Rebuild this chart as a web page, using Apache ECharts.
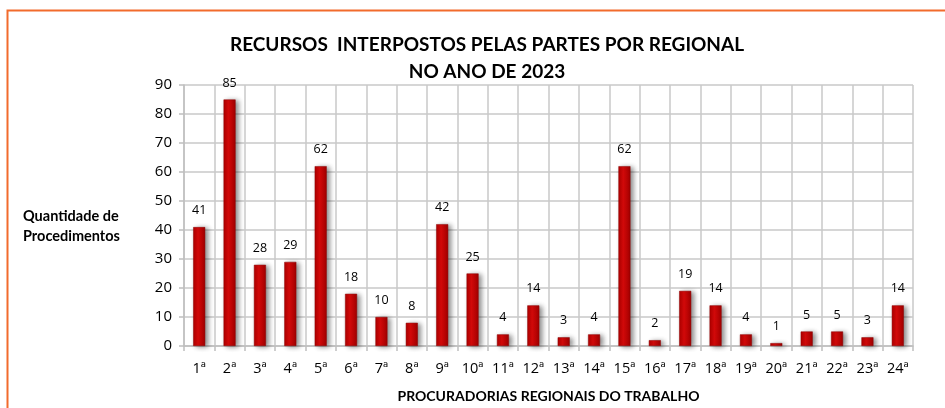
<!DOCTYPE html>
<html>
<head>
<meta charset="utf-8">
<script src="https://cdn.jsdelivr.net/npm/echarts@6/dist/echarts.min.js"></script>
<style>
  html, body { margin: 0; padding: 0; background: #fff; }
  #chart { width: 945px; height: 408px; }
</style>
</head>
<body>
<div id="chart"></div>
<script>
// regionais
var categorias = ['1ª','2ª','3ª','4ª','5ª','6ª','7ª','8ª','9ª','10ª','11ª','12ª',
                  '13ª','14ª','15ª','16ª','17ª','18ª','19ª','20ª','21ª','22ª','23ª','24ª'];
var recursos = [41, 85, 28, 29, 62, 18, 10, 8, 42, 25, 4, 14,
                3, 4, 62, 2, 19, 14, 4, 1, 5, 5, 3, 14];
var yTicks = [0, 10, 20, 30, 40, 50, 60, 70, 80, 90];

var fonte = 'Lato, "Open Sans", sans-serif';
var fonteEixo = '"Open Sans", sans-serif';

var myChart = echarts.init(document.getElementById('chart'), null, {renderer: 'canvas'});

var options = {
    backgroundColor: '#fff',
    animation: false,
    title: {
        text: 'RECURSOS  INTERPOSTOS PELAS PARTES POR REGIONAL\nNO ANO DE 2023',
        left: 482,
        top: 26,
        textAlign: 'center',
        textStyle: {
            fontFamily: fonte,
            fontSize: 19,
            fontWeight: 'bold',
            color: '#000',
            lineHeight: 27
        }
    },
    graphic: [
        {
            type: 'rect',
            shape: {x: 7.5, y: 10.5, width: 960, height: 420},
            style: {fill: 'none', stroke: '#f26b2c', lineWidth: 2}
        },
        {
            type: 'text',
            left: 23,
            top: 206,
            style: {
                text: 'Quantidade de\nProcedimentos',
                font: 'bold 14.5px ' + fonte,
                fill: '#000',
                lineHeight: 20
            }
        }
    ],
    grid: {left: 184, right: 32, top: 85, bottom: 62, outerBoundsMode: 'none', containLabel: false},
    xAxis: {
        type: 'category',
        data: categorias,
        name: 'PROCURADORIAS REGIONAIS DO TRABALHO',
        nameLocation: 'middle',
        nameGap: 43,
        nameTextStyle: {fontFamily: fonte, fontSize: 14, fontWeight: 'bold', color: '#000'},
        axisLine: {lineStyle: {color: '#bfbfbf', width: 1.5}},
        axisTick: {show: true, length: 5, lineStyle: {color: '#bfbfbf', width: 1.5}},
        axisLabel: {fontFamily: fonteEixo, fontSize: 14.5, color: '#000', margin: 15},
        splitLine: {show: true, lineStyle: {color: '#c8c8c8', width: 1.5}}
    },
    yAxis: {
        type: 'value',
        min: yTicks[0],
        max: yTicks[yTicks.length - 1],
        interval: 10,
        axisLine: {show: true, lineStyle: {color: '#bfbfbf', width: 1.5}},
        axisTick: {show: true, length: 5, lineStyle: {color: '#bfbfbf', width: 1.5}},
        axisLabel: {fontFamily: fonteEixo, fontSize: 15, color: '#000', margin: 12},
        splitLine: {show: true, lineStyle: {color: '#c8c8c8', width: 1.5}}
    },
    series: [{
        type: 'bar',
        data: recursos,
        barWidth: 12,
        itemStyle: {
            color: new echarts.graphic.LinearGradient(0, 0, 1, 0, [
                {offset: 0, color: '#b00000'},
                {offset: 0.4, color: '#d80a0a'},
                {offset: 1, color: '#a00000'}
            ]),
            borderColor: '#8c0000',
            borderWidth: 0.5,
            shadowColor: 'rgba(0,0,0,0.45)',
            shadowBlur: 5,
            shadowOffsetX: 3,
            shadowOffsetY: 1
        },
        label: {
            show: true,
            position: 'top',
            distance: 10,
            fontFamily: fonteEixo,
            fontSize: 12.5,
            color: '#000'
        }
    }]
};

myChart.setOption(options);
</script>
</body>
</html>
